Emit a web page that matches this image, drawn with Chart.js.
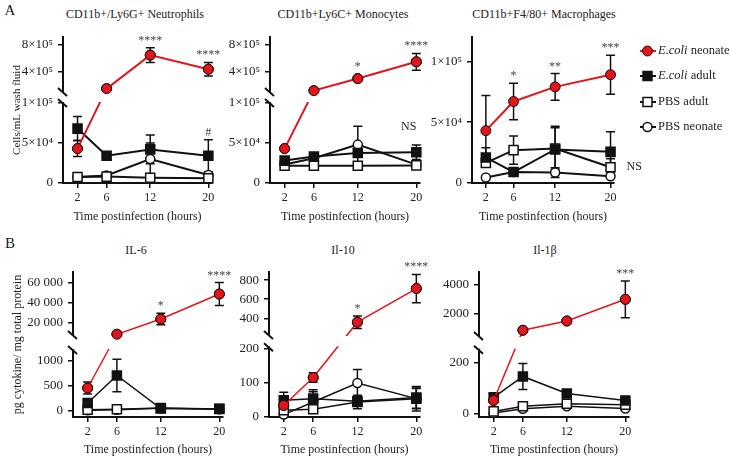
<!DOCTYPE html>
<html>
<head>
<meta charset="utf-8">
<script src="https://cdn.jsdelivr.net/npm/chart.js@4.4.1/dist/chart.umd.min.js"></script>
<style>
  body { margin: 0; background: #fff; width: 730px; height: 457px; position: relative; overflow: hidden;
         font-family: 'Liberation Serif', 'Times New Roman', serif; color: #222; }
  canvas { position: absolute; }
  .ttl { position: absolute; font-size: 12px; white-space: nowrap; transform: translate(-50%, -50%); }
  .letter { position: absolute; font-size: 15px; transform: translate(-50%, -50%); }
  #legend { position: absolute; left: 640px; top: 38px; font-size: 12.5px; }
  #legend div { height: 25.3px; line-height: 25.3px; white-space: nowrap; }
  #legend svg { vertical-align: middle; margin-right: 2px; }
</style>
</head>
<body>
<div class="letter" style="left:10px;top:10px">A</div>
<div class="letter" style="left:10px;top:243px">B</div>
<div class="ttl" style="left:135px;top:14px">CD11b+/Ly6G+ Neutrophils</div>
<div class="ttl" style="left:343px;top:14px">CD11b+Ly6C+ Monocytes</div>
<div class="ttl" style="left:544px;top:14px">CD11b+F4/80+ Macrophages</div>
<div class="ttl" style="left:136px;top:250px">IL-6</div>
<div class="ttl" style="left:343px;top:250px">Il-10</div>
<div class="ttl" style="left:545px;top:250px">Il-1β</div>

<canvas id="cNeu" width="220" height="200" style="left:0px;top:30px"></canvas>
<canvas id="cMono" width="220" height="200" style="left:208px;top:30px"></canvas>
<canvas id="cMac" width="228" height="200" style="left:422px;top:30px"></canvas>
<canvas id="cIl6" width="231" height="202" style="left:0px;top:255px"></canvas>
<canvas id="cIl10" width="209" height="202" style="left:219px;top:255px"></canvas>
<canvas id="cIl1b" width="208" height="202" style="left:429px;top:255px"></canvas>
<div id="legend"></div>

<script>
const hours = [2, 6, 12, 20];
const seriesNames = ['E.coli neonate', 'E.coli adult', 'PBS adult', 'PBS neonate'];

// cells / mL wash fluid, rows follow seriesNames
const neutroMean = [
  [43000, 150000, 650000, 440000],
  [68000, 34000, 42000, 34000],
  [7500, 8000, 6500, 6000],
  [7500, 9500, 30000, 10000]
];
const neutroErr = [
  [10000, 0, 110000, 100000],
  [15000, 3000, 18000, 20000],
  [1500, 1500, 2000, 2000],
  [1500, 2000, 20000, 3000]
];
const monoMean = [
  [43000, 120000, 300000, 550000],
  [28000, 33000, 37500, 38500],
  [21500, 21500, 21500, 22000],
  [23000, 31000, 48000, 23000]
];
const monoErr = [
  [0, 0, 20000, 125000],
  [3000, 3000, 5000, 9000],
  [2000, 1500, 1500, 2000],
  [3000, 3000, 23000, 3000]
];
const macMean = [
  [43000, 67000, 79000, 89000],
  [21000, 9000, 27600, 25600],
  [16500, 27000, 28400, 13000],
  [4500, 9000, 8600, 5500]
];
const macErr = [
  [29000, 15000, 11000, 16000],
  [8000, 2500, 19000, 16500],
  [3000, 11600, 17000, 7000],
  [500, 1000, 4000, 1000]
];

// pg cytokine / mg total protein
const il6Mean = [
  [450, 8750, 23800, 48500],
  [150, 700, 40, 35],
  [15, 25, 50, 30],
  [5, 15, 45, 25]
];
const il6Err = [
  [120, 0, 5600, 11400],
  [40, 324, 10, 10],
  [5, 5, 10, 8],
  [60, 60, 8, 8]
];
const il10Mean = [
  [34, 116, 360, 712],
  [49, 54, 46, 57],
  [20, 23, 44, 54],
  [7, 44, 100, 54]
];
const il10Err = [
  [8, 14, 65, 148],
  [24, 26, 8, 31],
  [8, 6, 20, 30],
  [8, 30, 40, 36]
];
const il1bMean = [
  [53, 800, 1456, 2990],
  [65, 147, 80, 53],
  [10, 30, 40, 36],
  [4, 20, 30, 21]
];
const il1bErr = [
  [8, 0, 0, 1300],
  [5, 51, 15, 8],
  [3, 5, 8, 6],
  [3, 5, 6, 5]
];

// tick values and labels
const cellTicks = [0, 50000, 100000, 400000, 800000];
const cellTickLabels = ['0', '5×10⁴', '1×10⁵', '4×10⁵', '8×10⁵'];
const macTicks = [0, 50000, 100000];
const macTickLabels = ['0', '5×10⁴', '1×10⁵'];
const il6Ticks = [0, 500, 1000, 20000, 40000, 60000];
const il6TickLabels = ['0', '500', '1000', '20 000', '40 000', '60 000'];
const il10Ticks = [0, 100, 200, 400, 600, 800];
const il10TickLabels = ['0', '100', '200', '400', '600', '800'];
const il1bTicks = [0, 200, 2000, 4000];
const il1bTickLabels = ['0', '200', '2000', '4000'];

// significance marks: [series, hour index, text]
const neutroMarks = [[0, 2, '****'], [0, 3, '****'], [1, 3, '#']];
const monoMarks = [[0, 2, '*'], [0, 3, '****']];
const macMarks = [[0, 1, '*'], [0, 2, '**'], [0, 3, '***']];
const il6Marks = [[0, 2, '*'], [0, 3, '****']];
const il10Marks = [[0, 2, '*'], [0, 3, '****']];
const il1bMarks = [[0, 3, '***']];

const RED = '#e3151b';
const INK = '#111';
const styles = [
  { line: RED, fill: RED, stroke: INK, shape: 'circle', r: 5, bw: 1 },
  { line: INK, fill: INK, stroke: INK, shape: 'rect', r: 6.4, bw: 1.5 },
  { line: INK, fill: '#fff', stroke: INK, shape: 'rect', r: 6.4, bw: 1.5 },
  { line: INK, fill: '#fff', stroke: INK, shape: 'circle', r: 4.5, bw: 1.5 }
];

Chart.defaults.font.family = "'Liberation Serif', 'Times New Roman', serif";
Chart.defaults.font.size = 12;
Chart.defaults.color = '#222';

// linear scale with a gap between a lower and an upper segment
class BrokenScale extends Chart.LinearScale {
  static id = 'broken';
  getPixelForValue(value) {
    if (value === null || value === undefined) return NaN;
    const b = this.options.brk;
    const upFrac = 1 - b.lowFrac - b.gapFrac;
    let d;
    if (value <= b.lowMax) d = (value - this.min) / (b.lowMax - this.min) * b.lowFrac;
    else if (value >= b.upMin) d = b.lowFrac + b.gapFrac + (value - b.upMin) / (this.max - b.upMin) * upFrac;
    else d = b.lowFrac + (value - b.lowMax) / (b.upMin - b.lowMax) * b.gapFrac;
    return this.getPixelForDecimal(d);
  }
}
Chart.register(BrokenScale);

function makePanel(cfg) {
  const datasets = seriesNames.map((name, s) => ({
    label: name,
    data: hours.map((h, i) => ({ x: h, y: cfg.means[s][i] })),
    errors: cfg.errs[s],
    order: s,
    borderColor: styles[s].line,
    borderWidth: cfg.lineW,
    backgroundColor: styles[s].fill,
    pointBackgroundColor: styles[s].fill,
    pointBorderColor: styles[s].stroke,
    pointBorderWidth: styles[s].bw,
    pointStyle: styles[s].shape,
    pointRadius: styles[s].r,
    pointHoverRadius: styles[s].r,
    tension: 0,
    clip: false
  }));

  const errorBars = {
    id: 'errorBars',
    beforeDatasetsDraw(chart) {
      const { ctx, scales: { y } } = chart;
      ctx.save();
      ctx.strokeStyle = INK;
      ctx.lineWidth = 1.5;
      for (let s = datasets.length - 1; s >= 0; s--) {
        const meta = chart.getDatasetMeta(s);
        datasets[s].errors.forEach((e, i) => {
          if (!e) return;
          const m = datasets[s].data[i].y;
          const px = meta.data[i].x;
          const yt = y.getPixelForValue(m + e), yb = y.getPixelForValue(m - e);
          ctx.beginPath();
          ctx.moveTo(px, yt); ctx.lineTo(px, yb);
          ctx.moveTo(px - 4.5, yt); ctx.lineTo(px + 4.5, yt);
          ctx.moveTo(px - 4.5, yb); ctx.lineTo(px + 4.5, yb);
          ctx.stroke();
        });
      }
      ctx.restore();
    }
  };

  const breakAndNotes = {
    id: 'breakAndNotes',
    afterDraw(chart) {
      const { ctx, chartArea, scales: { x, y } } = chart;
      ctx.save();
      if (cfg.brk) {
        const yLow = y.getPixelForDecimal(cfg.brk.lowFrac);
        const yUp = y.getPixelForDecimal(cfg.brk.lowFrac + cfg.brk.gapFrac);
        ctx.fillStyle = '#fff';
        ctx.fillRect(chartArea.left - 3, yUp + 1, chartArea.right - chartArea.left + 4, yLow - yUp - 2);
        chart.getDatasetMeta(0).data.forEach(p => p.draw(ctx));
        ctx.strokeStyle = INK;
        ctx.lineWidth = 2;
        [yUp, yLow].forEach(py => {
          ctx.beginPath();
          ctx.moveTo(chartArea.left - 5, py - 4);
          ctx.lineTo(chartArea.left + 4, py + 4);
          ctx.stroke();
        });
      }
      ctx.fillStyle = '#444';
      ctx.font = "12px 'Liberation Serif', serif";
      ctx.textAlign = 'center';
      ctx.textBaseline = 'alphabetic';
      cfg.marks.forEach(([s, i, text]) => {
        const m = cfg.means[s][i], e = cfg.errs[s][i];
        const px = x.getPixelForValue(hours[i]);
        const topPx = Math.min(y.getPixelForValue(m + e), y.getPixelForValue(m) - styles[s].r);
        ctx.fillText(text, px, topPx - 4);
      });
      if (cfg.ns) {
        ctx.fillStyle = '#222';
        ctx.textAlign = cfg.ns[2];
        ctx.textBaseline = 'middle';
        ctx.fillText('NS', x.getPixelForValue(cfg.ns[0]), y.getPixelForValue(cfg.ns[1]));
      }
      ctx.restore();
    }
  };

  return new Chart(document.getElementById(cfg.el), {
    type: 'line',
    data: { datasets },
    options: {
      responsive: false,
      animation: false,
      events: [],
      layout: { autoPadding: false, padding: { top: cfg.padTop, right: cfg.padRight, left: 0, bottom: 0 } },
      plugins: { legend: { display: false }, tooltip: { enabled: false } },
      scales: {
        x: {
          type: 'linear', min: 0, max: 20.5, bounds: 'data',
          border: { color: INK, width: 2 },
          grid: { drawOnChartArea: false, color: INK, lineWidth: 1.5, tickLength: 5 },
          ticks: { padding: 3, autoSkip: false, maxRotation: 0 },
          afterBuildTicks: s => { s.ticks = hours.map(v => ({ value: v })); },
          afterFit: s => { s.height = cfg.xh; s.paddingLeft = 0; s.paddingRight = 0; },
          title: { display: true, text: 'Time postinfection (hours)', padding: { top: 0, bottom: cfg.xPad } }
        },
        y: {
          type: cfg.brk ? 'broken' : 'linear',
          min: cfg.yMin, max: cfg.yMax, bounds: 'data',
          brk: cfg.brk,
          border: { color: INK, width: 2 },
          grid: { drawOnChartArea: false, color: INK, lineWidth: 1.5, tickLength: 5 },
          ticks: { padding: 5, autoSkip: false, font: { size: 13 }, callback: (v, i) => cfg.yLabels[i] },
          afterBuildTicks: s => { s.ticks = cfg.yTicks.map(v => ({ value: v })); },
          afterFit: s => { s.width = cfg.yw; s.paddingTop = 0; s.paddingBottom = 0; },
          title: { display: !!cfg.yTitle, text: cfg.yTitle || '', font: { size: cfg.yTitleSize || 12 },
                   padding: { top: 11, bottom: 0 } }
        }
      }
    },
    plugins: [errorBars, breakAndNotes]
  });
}

const topRow = { padTop: 7, xh: 47, xPad: 6, lineW: 2 };
const bottomRow = { padTop: 17, xh: 40, xPad: 0, lineW: 1.5 };

makePanel({ ...topRow, el: 'cNeu', yw: 63, padRight: 8, means: neutroMean, errs: neutroErr,
  yMin: 0, yMax: 920000, brk: { lowMax: 100000, upMin: 100000, lowFrac: 80 / 146, gapFrac: 11 / 146 },
  yTicks: cellTicks, yLabels: cellTickLabels, yTitle: 'Cells/mL wash fluid', yTitleSize: 11, marks: neutroMarks });
makePanel({ ...topRow, el: 'cMono', yw: 62, padRight: 8, means: monoMean, errs: monoErr,
  yMin: 0, yMax: 920000, brk: { lowMax: 100000, upMin: 100000, lowFrac: 80 / 146, gapFrac: 11 / 146 },
  yTicks: cellTicks, yLabels: cellTickLabels, marks: monoMarks, ns: [20, 70000, 'right'] });
makePanel({ ...topRow, el: 'cMac', yw: 50, padRight: 36, means: macMean, errs: macErr,
  yMin: 0, yMax: 120000, yTicks: macTicks, yLabels: macTickLabels, marks: macMarks, ns: [22.3, 13000, 'left'] });
makePanel({ ...bottomRow, el: 'cIl6', yw: 73, padRight: 8, means: il6Mean, errs: il6Err,
  yMin: -130, yMax: 70300, brk: { lowMax: 1210, upMin: 8000, lowFrac: 67 / 145, gapFrac: 15 / 145 },
  yTicks: il6Ticks, yLabels: il6TickLabels, yTitle: 'pg cytokine/ mg total protein', marks: il6Marks });
makePanel({ ...bottomRow, el: 'cIl10', yw: 50, padRight: 8, means: il10Mean, errs: il10Err,
  yMin: 0, yMax: 885, brk: { lowMax: 205, upMin: 226, lowFrac: 69.7 / 145, gapFrac: 12.3 / 145 },
  yTicks: il10Ticks, yLabels: il10TickLabels, marks: il10Marks });
makePanel({ ...bottomRow, el: 'cIl1b', yw: 50, padRight: 8, means: il1bMean, errs: il1bErr,
  yMin: -12, yMax: 4920, brk: { lowMax: 252, upMin: 395, lowFrac: 67.3 / 145, gapFrac: 13.7 / 145 },
  yTicks: il1bTicks, yLabels: il1bTickLabels, marks: il1bMarks });

// legend
const legendEl = document.getElementById('legend');
seriesNames.forEach((name, s) => {
  const st = styles[s];
  const mark = st.shape === 'circle'
    ? `<circle cx="7.5" cy="7" r="${st.r}" fill="${st.fill}" stroke="${st.stroke}" stroke-width="${st.bw}"/>`
    : `<rect x="3" y="2.5" width="9" height="9" fill="${st.fill}" stroke="${st.stroke}" stroke-width="${st.bw}"/>`;
  const svg = `<svg width="16" height="14"><line x1="0" y1="7" x2="16" y2="7" stroke="${st.line}" stroke-width="2"/>${mark}</svg>`;
  const label = name.startsWith('E.coli') ? `<i>E.coli</i>${name.slice(6)}` : name;
  const row = document.createElement('div');
  row.innerHTML = svg + label;
  legendEl.appendChild(row);
});
</script>
</body>
</html>
